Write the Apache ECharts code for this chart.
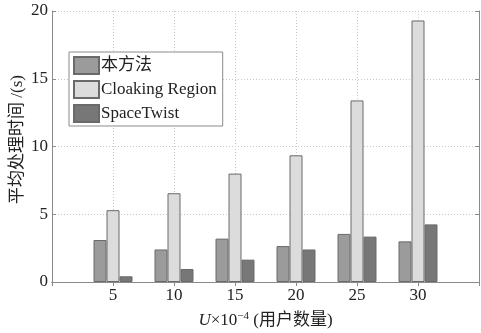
<!DOCTYPE html>
<html>
<head>
<meta charset="utf-8">
<script src="https://cdn.jsdelivr.net/npm/echarts@6/dist/echarts.min.js"></script>
<style>
  html, body { margin: 0; padding: 0; background: #fff; }
  #chart { width: 481px; height: 333px; }
</style>
</head>
<body>
<div id="chart"></div>
<script>
// User counts (×10^-4) along the horizontal axis
const categories = ['5', '10', '15', '20', '25', '30'];
// Average processing time in seconds
const ourMethod = [3.1, 2.4, 3.2, 2.65, 3.55, 3.0];
const cloakingRegion = [5.3, 6.55, 8.0, 9.35, 13.4, 19.3];
const spaceTwist = [0.42, 0.96, 1.65, 2.4, 3.35, 4.25];
const yTicks = [0, 5, 10, 15, 20];

// padded axis so the groups sit at 5..30 on a 0..35 span
const axisData = [''].concat(categories, ['']);
const pad = arr => [null].concat(arr, [null]);

const serif = '"Liberation Serif", "Noto Sans CJK SC", serif';
const axisColor = '#8a8a8a';

const barStyle = (fill) => ({ color: fill, borderColor: '#6a6a6a', borderWidth: 1 });

const chart = echarts.init(document.getElementById('chart'));
chart.setOption({
  animation: false,
  backgroundColor: '#fff',
  textStyle: { fontFamily: serif },
  grid: { left: 52, right: 2, top: 11, bottom: 51, outerBoundsMode: 'none', containLabel: false },
  legend: {
    orient: 'vertical',
    left: 69, top: 52,
    itemWidth: 25, itemHeight: 17, itemGap: 5,
    padding: [4, 6, 3, 4],
    borderColor: '#8a8a8a', borderWidth: 1,
    backgroundColor: '#fff',
    icon: 'rect',
    textStyle: { fontFamily: serif, fontSize: 17, color: '#222', padding: [0, 0, 0, -3] },
    data: ['本方法', 'Cloaking Region', 'SpaceTwist']
  },
  xAxis: [{
    type: 'category',
    data: axisData,
    boundaryGap: false,
    position: 'bottom',
    name: '{i|U}{n|×10}{s|−4}{n| (用户数量)}',
    nameLocation: 'middle',
    nameGap: 29,
    nameTextStyle: {
      rich: {
        i: { fontFamily: serif, fontStyle: 'italic', fontSize: 17, color: '#222' },
        n: { fontFamily: serif, fontSize: 17, color: '#222' },
        s: { fontFamily: serif, fontSize: 11, color: '#222', verticalAlign: 'top', padding: [0, 0, 8, 0] }
      }
    },
    axisLine: { lineStyle: { color: axisColor } },
    axisTick: { inside: true, length: 4, lineStyle: { color: axisColor } },
    axisLabel: { fontSize: 17, color: '#222', margin: 5, fontFamily: serif },
    splitLine: { show: true, lineStyle: { color: '#c8c8c8', type: [1, 2] } }
  }, {
    type: 'category',
    data: axisData,
    boundaryGap: false,
    position: 'top',
    axisLine: { lineStyle: { color: axisColor } },
    axisTick: { inside: true, length: 4, lineStyle: { color: axisColor } },
    axisLabel: { show: false },
    splitLine: { show: false }
  }],
  yAxis: [{
    type: 'value',
    min: yTicks[0], max: yTicks[yTicks.length - 1], interval: 5,
    position: 'left',
    name: '平均处理时间 /(s)',
    nameLocation: 'middle',
    nameGap: 26,
    nameMoveOverlap: false,
    nameTextStyle: { fontFamily: serif, fontSize: 17, color: '#222', padding: [0, 0, 0, 14] },
    axisLine: { show: true, lineStyle: { color: axisColor } },
    axisTick: { show: true, inside: true, length: 4, lineStyle: { color: axisColor } },
    axisLabel: { fontSize: 17, color: '#222', margin: 4, fontFamily: serif },
    splitLine: { show: true, lineStyle: { color: '#c8c8c8', type: [1, 2] } }
  }, {
    type: 'value',
    min: yTicks[0], max: yTicks[yTicks.length - 1], interval: 5,
    position: 'right',
    axisLine: { show: true, lineStyle: { color: axisColor } },
    axisTick: { show: true, inside: true, length: 4, lineStyle: { color: axisColor } },
    axisLabel: { show: false },
    splitLine: { show: false }
  }],
  series: [{
    name: '本方法', type: 'bar', data: pad(ourMethod),
    barWidth: 13, barGap: '0%',
    itemStyle: barStyle('#9b9b9b')
  }, {
    name: 'Cloaking Region', type: 'bar', data: pad(cloakingRegion),
    barWidth: 13, barGap: '0%',
    itemStyle: barStyle('#dcdcdc')
  }, {
    name: 'SpaceTwist', type: 'bar', data: pad(spaceTwist),
    barWidth: 13, barGap: '0%',
    itemStyle: barStyle('#777777')
  }]
});
</script>
</body>
</html>
